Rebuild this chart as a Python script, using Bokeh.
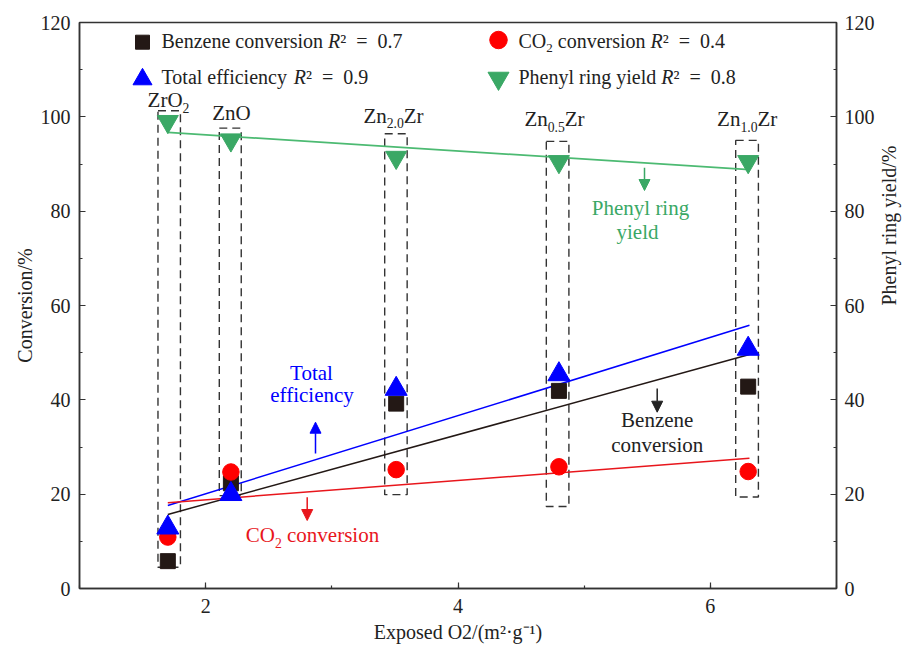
import math
from bokeh.plotting import figure
from bokeh.models import Range1d, LinearAxis, SingleIntervalTicker, Arrow, NormalHead
from bokeh.core.properties import value
from bokeh.embed import file_html
from bokeh.resources import INLINE

# ---------------- data ----------------
samples = ["ZrO2", "ZnO", "Zn2.0Zr", "Zn0.5Zr", "Zn1.0Zr"]
exposed_o2 = [1.70, 2.20, 3.51, 4.80, 6.30]
benzene_conv = [5.8, 22.3, 39.2, 41.9, 42.8]
co2_conv = [10.9, 24.7, 25.2, 25.8, 24.8]
total_eff = [12.9, 20.0, 42.3, 45.4, 50.8]
phenyl_yield = [99.0, 95.1, 91.4, 90.5, 90.5]

fit_x = [1.70, 6.31]
benzene_fit = [15.7, 49.6]
co2_fit = [18.2, 27.6]
total_fit = [17.6, 55.8]
phenyl_fit = [96.7, 88.8]

r2_benzene, r2_co2, r2_total, r2_phenyl = "0.7", "0.4", "0.9", "0.8"

y_ticks_step = 20
x_ticks_step = 2

# dashed boxes around each sample column (annotation geometry)
box_left = [1.622, 2.108, 3.419, 4.700, 6.201]
box_right = [1.800, 2.282, 3.597, 4.879, 6.381]
box_top = [101.3, 97.6, 96.4, 94.8, 95.0]
box_bottom = [4.5, 19.7, 19.9, 17.4, 19.4]

# ---------------- layout ----------------
FONT = "Liberation Serif"
X0, X1, Y0, Y1 = 1, 7, 0, 120
FL, FT, FW, FH = 79, 22, 757, 566
BLACK = "#231815"
RED = "#ff0000"
RED_LINE = "#e8161c"
BLUE = "#0000ff"
GREEN = "#3aa865"
GREEN_LINE = "#4cba72"
AX = "#333333"
TXT = "#222222"
NB = "\u00a0"


def dx(px):
    return X0 + (px - FL) * (X1 - X0) / FW


def dy(py):
    return Y0 + (FT + FH - py) * (Y1 - Y0) / FH


p = figure(frame_width=FW, frame_height=FH,
           min_border_left=FL, min_border_right=903 - FL - FW,
           min_border_top=FT, min_border_bottom=645 - FT - FH,
           x_range=Range1d(X0, X1), y_range=Range1d(Y0, Y1),
           output_backend="svg", toolbar_location=None)
p.extra_y_ranges = {"right": Range1d(Y0, Y1)}
p.xgrid.visible = False
p.ygrid.visible = False
p.outline_line_color = AX
p.outline_line_width = 1.5
p.background_fill_color = "white"
p.border_fill_color = "white"


def style_axis(ax, interval):
    ax.ticker = SingleIntervalTicker(interval=interval, num_minor_ticks=2)
    ax.axis_line_color = AX
    ax.axis_line_width = 1.5
    ax.major_tick_line_color = AX
    ax.minor_tick_line_color = AX
    ax.major_tick_line_width = 1.2
    ax.minor_tick_line_width = 1.2
    ax.major_tick_in = 6
    ax.major_tick_out = 0
    ax.minor_tick_in = 3
    ax.minor_tick_out = 0
    ax.major_label_text_font = FONT
    ax.major_label_text_font_size = "20px"
    ax.major_label_text_color = TXT
    ax.major_label_standoff = 9
    ax.axis_label_text_font = FONT
    ax.axis_label_text_font_size = "20px"
    ax.axis_label_text_font_style = "normal"
    ax.axis_label_text_color = TXT


style_axis(p.xaxis[0], x_ticks_step)
style_axis(p.yaxis[0], y_ticks_step)
p.xaxis[0].axis_label = "Exposed O2/(m\u00b2\u00b7g\u207b\u00b9)"
p.xaxis[0].major_label_standoff = 10
p.xaxis[0].axis_label_standoff = 5
p.yaxis[0].axis_label = "Conversion/%"
p.yaxis[0].axis_label_standoff = 2

yr = LinearAxis(y_range_name="right")
style_axis(yr, y_ticks_step)
yr.major_label_standoff = 8
yr.axis_label = "Phenyl ring yield/%"
yr.axis_label_standoff = 11
try:
    yr.axis_label_orientation = math.pi / 2
except Exception:
    pass
p.add_layout(yr, "right")

# ---------------- dashed boxes ----------------
p.quad(left=box_left, right=box_right, top=box_top, bottom=box_bottom,
       fill_alpha=0, line_color=AX, line_width=1.4, line_dash="8 5")

# ---------------- fit lines ----------------
p.line(fit_x, phenyl_fit, line_color=GREEN_LINE, line_width=1.7, y_range_name="right")
p.line(fit_x, total_fit, line_color=BLUE, line_width=1.5)
p.line(fit_x, benzene_fit, line_color=BLACK, line_width=1.5)
p.line(fit_x, co2_fit, line_color=RED_LINE, line_width=1.5)

# ---------------- markers ----------------
p.scatter(exposed_o2, benzene_conv, marker="square", size=15, fill_color=BLACK, line_color=BLACK)
p.scatter(exposed_o2, co2_conv, marker="circle", size=16.5, fill_color=RED, line_color=RED)
p.scatter(exposed_o2, total_eff, marker="triangle", size=22, fill_color=BLUE, line_color=BLUE)
p.scatter(exposed_o2, phenyl_yield, marker="inverted_triangle", size=21, fill_color=GREEN,
          line_color=GREEN, y_range_name="right")

# ---------------- rich text helper ----------------
TIMES = {' ': 250, NB: 250, '=': 564, '.': 250, '\u00b2': 300, '/': 278, '%': 833,
         'B': 667, 'C': 667, 'O': 722, 'P': 556, 'T': 611, 'Z': 611, 'R': 667,
         'a': 444, 'c': 444, 'e': 444, 'f': 333, 'g': 500, 'h': 500, 'i': 278,
         'l': 278, 'n': 500, 'o': 500, 'r': 333, 's': 389, 't': 278, 'v': 500,
         'y': 500, 'z': 444}
TIMES_IT = {'R': 611}
BASE_FIX = 0.37  # text glyph baseline correction (fraction of font size)


def tw(s, size, italic=False):
    tbl = TIMES_IT if italic else TIMES
    return sum(tbl.get(c, TIMES.get(c, 500)) for c in s) * size / 1000.0


def rich(pieces, px, py, size, color, align="left"):
    items = []
    for t, kind in pieces:
        fs = size * 0.65 if kind == "sub" else size
        items.append((t, kind, fs, tw(t, fs, kind == "i")))
    total = sum(it[3] for it in items)
    cur = px - total / 2 if align == "center" else px
    for t, kind, fs, w in items:
        shift = size * 0.22 if kind == "sub" else 0
        lead = len(t) - len(t.lstrip(" "))
        p.text(x=[dx(cur + tw(" " * lead, fs))], y=[dy(py + shift - BASE_FIX * fs)],
               text=[t.strip(" ")],
               text_font=value(FONT), text_font_size=f"{fs:.1f}px",
               text_font_style="italic" if kind == "i" else "normal",
               text_color=color, text_align="left", text_baseline="alphabetic")
        cur += w


def r2_tail(v):
    return "\u00b2" + NB + NB + "=" + NB + NB + v


# ---------------- legend ----------------
p.scatter([dx(142)], [dy(41.7)], marker="square", size=14, fill_color=BLACK, line_color=BLACK)
p.scatter([dx(498)], [dy(39.5)], marker="circle", size=17.5, fill_color=RED, line_color=RED)
p.scatter([dx(142)], [dy(78.8)], marker="triangle", size=19, fill_color=BLUE, line_color=BLUE)
p.scatter([dx(498)], [dy(77.8)], marker="inverted_triangle", size=21, fill_color=GREEN, line_color=GREEN)
rich([("Benzene conversion ", "n"), ("R", "i"), (r2_tail(r2_benzene), "n")], 161, 48.3, 20, TXT)
rich([("CO", "n"), ("2", "sub"), (" conversion ", "n"), ("R", "i"), (r2_tail(r2_co2), "n")], 518, 48.3, 20, TXT)
rich([("Total efficiency ", "n"), ("R", "i"), (r2_tail(r2_total), "n")], 161, 84, 20, TXT)
rich([("Phenyl ring yield ", "n"), ("R", "i"), (r2_tail(r2_phenyl), "n")], 518, 84, 20, TXT)

# ---------------- sample labels ----------------
rich([("ZrO", "n"), ("2", "sub")], 168, 107.5, 21, TXT, "center")
rich([("ZnO", "n")], 231, 120, 21, TXT, "center")
rich([("Zn", "n"), ("2.0", "sub"), ("Zr", "n")], 393, 123.3, 21, TXT, "center")
rich([("Zn", "n"), ("0.5", "sub"), ("Zr", "n")], 554, 126.7, 21, TXT, "center")
rich([("Zn", "n"), ("1.0", "sub"), ("Zr", "n")], 746.7, 126.7, 21, TXT, "center")

# ---------------- annotations ----------------
rich([("Total", "n")], 311.7, 380, 21, BLUE, "center")
rich([("efficiency", "n")], 311.7, 402, 21, BLUE, "center")
rich([("CO", "n"), ("2", "sub"), (" conversion", "n")], 312, 542.7, 21, RED_LINE, "center")
rich([("Benzene", "n")], 656.7, 427.7, 21, TXT, "center")
rich([("conversion", "n")], 656.7, 452.7, 21, TXT, "center")
rich([("Phenyl ring", "n")], 640, 215, 21, GREEN, "center")
rich([("yield", "n")], 637, 239.5, 21, GREEN, "center")


def arrow(px, py0, py1, color):
    p.add_layout(Arrow(end=NormalHead(size=11, fill_color=color, line_color=color),
                       x_start=dx(px), y_start=dy(py0), x_end=dx(px), y_end=dy(py1),
                       line_color=color, line_width=1.5))


arrow(315, 453, 421.7, BLUE)
arrow(306.7, 496.7, 520, RED_LINE)
arrow(656.7, 388, 411.7, TXT)
arrow(644, 167.3, 190, GREEN)

open("out.html", "w").write(file_html(p, INLINE))
